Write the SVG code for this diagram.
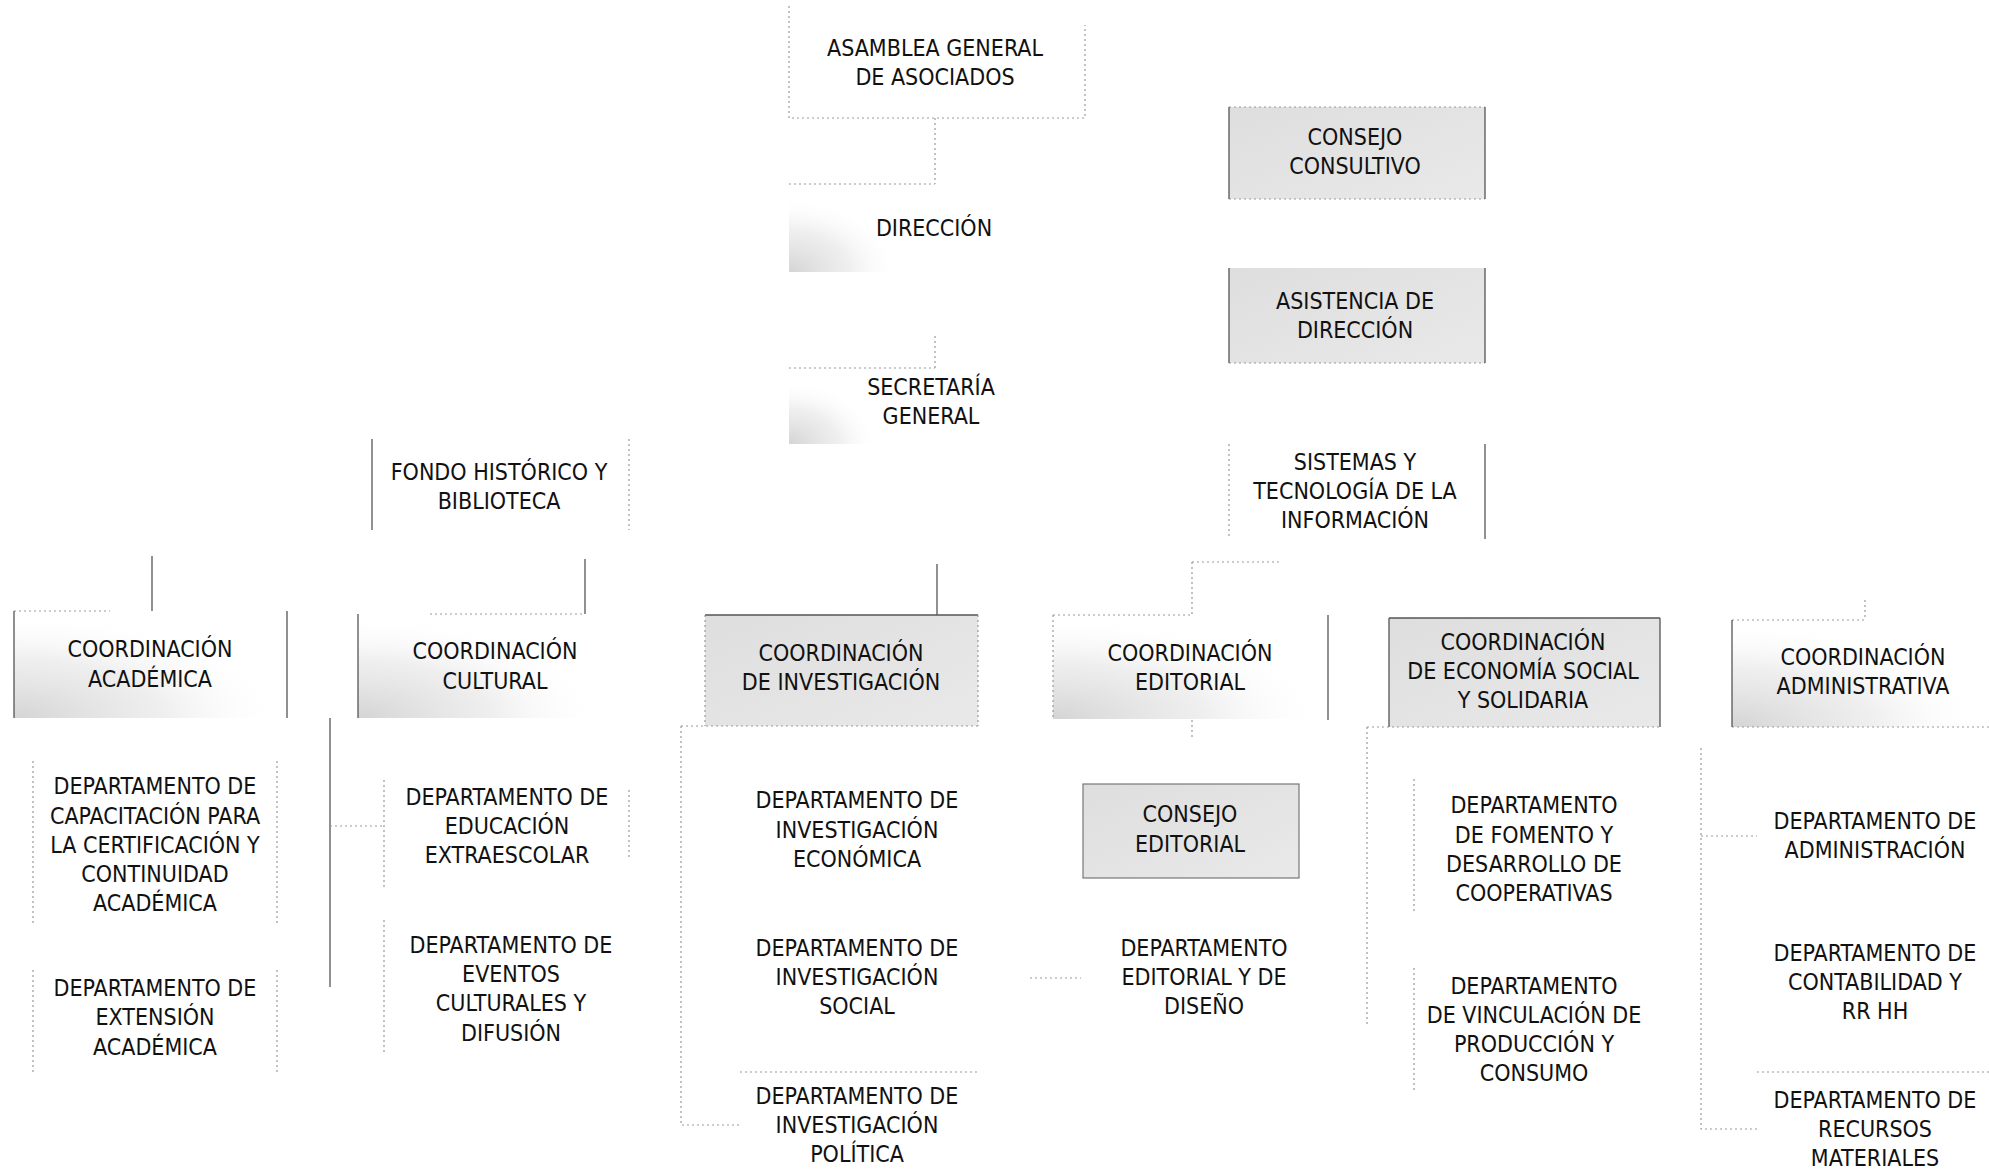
<svg xmlns="http://www.w3.org/2000/svg" width="1989" height="1171" viewBox="0 0 1989 1171">
<style>
text{font-family:"DejaVu Sans Condensed","DejaVu Sans",sans-serif;font-size:23px;fill:#111;text-anchor:middle}
.s{stroke:#555;stroke-width:1.3;fill:none}
.d{stroke:#999;stroke-width:1.2;fill:none;stroke-dasharray:2 3}
.shade{fill:url(#sh)}
.fade{fill:url(#fd)}
</style>
<defs>
<linearGradient id="sh" x1="0" y1="0" x2="1" y2="1"><stop offset="0" stop-color="#dedede"/><stop offset="1" stop-color="#e9e9e9"/></linearGradient>
<radialGradient id="fd" cx="0" cy="1" r="1"><stop offset="0" stop-color="#d4d4d4" stop-opacity="1"/><stop offset="0.55" stop-color="#e4e4e4" stop-opacity="0.6"/><stop offset="1" stop-color="#ffffff" stop-opacity="0"/></radialGradient>
</defs>
<rect width="1989" height="1171" fill="#fff"/>

<g id="connectors">
<path class="d" d="M935 118V184"/>
<path class="d" d="M789 184H935"/>
<path class="d" d="M935 336V368M789 368H935"/>
<path class="s" d="M937 564V615"/>
<path class="s" d="M152 556V611"/>
<path class="s" d="M585 559V614"/>
<path class="d" d="M1192 562H1281"/>
<path class="d" d="M1192 562V615"/>
<path class="d" d="M1865 600V620"/>
<path class="s" d="M330 718V987"/>
<path class="d" d="M330 826H384"/>
<path class="d" d="M681 726V1125H740"/>
<path class="d" d="M740 1072H977"/>
<path class="d" d="M1030 978H1081"/>
<path class="d" d="M1192 720V740"/>
<path class="d" d="M1367 727V1027"/>
<path class="d" d="M1701 748V1129H1757M1701 836H1757"/>
<path class="d" d="M1757 1072H1989"/>
</g>

<g id="asamblea"><path class="d" d="M789 6V118H1085V25"/><text x="935" y="56">ASAMBLEA GENERAL</text><text x="935" y="85">DE ASOCIADOS</text></g>
<g id="consejo-consultivo"><rect class="shade" x="1229" y="107" width="256" height="92"/><path class="d" d="M1229 107H1485M1229 199H1485"/><path class="s" d="M1229 107V199M1485 107V199"/><text x="1355" y="145">CONSEJO</text><text x="1355" y="174">CONSULTIVO</text></g>
<g id="direccion"><rect class="fade" x="789" y="196" width="110" height="76"/><text x="934" y="236">DIRECCIÓN</text></g>
<g id="asistencia"><rect class="shade" x="1229" y="268" width="256" height="95"/><path class="d" d="M1229 363H1485"/><path class="s" d="M1229 268V363M1485 268V363"/><text x="1355" y="309">ASISTENCIA DE</text><text x="1355" y="338">DIRECCIÓN</text></g>
<g id="secretaria"><rect class="fade" x="789" y="380" width="90" height="64"/><text x="931" y="395">SECRETARÍA</text><text x="931" y="424">GENERAL</text></g>
<g id="fondo"><path class="s" d="M372 439V530" stroke="#999"/><path class="d" d="M629 439V530"/><text x="499" y="480">FONDO HISTÓRICO Y</text><text x="499" y="509">BIBLIOTECA</text></g>
<g id="sistemas"><path class="d" d="M1229 444V539"/><path class="s" d="M1485 444V539" stroke="#999"/><text x="1355" y="470">SISTEMAS Y</text><text x="1355" y="499">TECNOLOGÍA DE LA</text><text x="1355" y="528">INFORMACIÓN</text></g>

<g id="coord-academica"><rect class="fade" x="14" y="611" width="273" height="107"/><path class="d" d="M14 611H110"/><path class="s" d="M14 611V718M287 611V718"/><text x="150" y="657">COORDINACIÓN</text><text x="150" y="687">ACADÉMICA</text></g>
<g id="coord-cultural"><rect class="fade" x="358" y="614" width="246" height="104"/><path class="d" d="M430 614H585"/><path class="s" d="M358 614V718"/><text x="495" y="659">COORDINACIÓN</text><text x="495" y="689">CULTURAL</text></g>
<g id="coord-investigacion"><rect class="shade" x="705" y="615" width="273" height="111"/><path class="s" d="M705 615H978"/><path class="d" d="M705 615V726M978 615V726M681 726H978"/><text x="841" y="661">COORDINACIÓN</text><text x="841" y="690">DE INVESTIGACIÓN</text></g>
<g id="coord-editorial"><rect class="fade" x="1053" y="615" width="275" height="104"/><path class="d" d="M1053 615H1192M1053 615V719"/><path class="s" d="M1328 615V720"/><text x="1190" y="661">COORDINACIÓN</text><text x="1190" y="690">EDITORIAL</text></g>
<g id="coord-economia"><rect class="shade" x="1389" y="618" width="271" height="109"/><path class="s" d="M1389 618H1660M1389 618V727M1660 618V727"/><path class="d" d="M1367 727H1660"/><text x="1523" y="650">COORDINACIÓN</text><text x="1523" y="679">DE ECONOMÍA SOCIAL</text><text x="1523" y="708">Y SOLIDARIA</text></g>
<g id="coord-administrativa"><rect class="fade" x="1732" y="620" width="257" height="107"/><path class="d" d="M1732 620H1865M1732 727H1989"/><path class="s" d="M1732 620V727"/><text x="1863" y="665">COORDINACIÓN</text><text x="1863" y="694">ADMINISTRATIVA</text></g>

<g id="dep-capacitacion"><path class="d" d="M33 761V926M277 761V926" stroke="#ccc"/><text x="155" y="794">DEPARTAMENTO DE</text><text x="155" y="824">CAPACITACIÓN PARA</text><text x="155" y="853">LA CERTIFICACIÓN Y</text><text x="155" y="882">CONTINUIDAD</text><text x="155" y="911">ACADÉMICA</text></g>
<g id="dep-extension"><path class="d" d="M33 970V1072M277 970V1072" stroke="#ccc"/><text x="155" y="996">DEPARTAMENTO DE</text><text x="155" y="1025">EXTENSIÓN</text><text x="155" y="1055">ACADÉMICA</text></g>
<g id="dep-educacion"><path class="d" d="M384 780V888M629 790V860" stroke="#ccc"/><text x="507" y="805">DEPARTAMENTO DE</text><text x="507" y="834">EDUCACIÓN</text><text x="507" y="863">EXTRAESCOLAR</text></g>
<g id="dep-eventos"><path class="d" d="M384 920V1053" stroke="#ccc"/><text x="511" y="953">DEPARTAMENTO DE</text><text x="511" y="982">EVENTOS</text><text x="511" y="1011">CULTURALES Y</text><text x="511" y="1041">DIFUSIÓN</text></g>
<g id="dep-inv-economica"><text x="857" y="808">DEPARTAMENTO DE</text><text x="857" y="838">INVESTIGACIÓN</text><text x="857" y="867">ECONÓMICA</text></g>
<g id="dep-inv-social"><text x="857" y="956">DEPARTAMENTO DE</text><text x="857" y="985">INVESTIGACIÓN</text><text x="857" y="1014">SOCIAL</text></g>
<g id="dep-inv-politica"><text x="857" y="1104">DEPARTAMENTO DE</text><text x="857" y="1133">INVESTIGACIÓN</text><text x="857" y="1162">POLÍTICA</text></g>
<g id="consejo-editorial"><rect class="shade" x="1083" y="784" width="216" height="94" stroke="#777" stroke-width="1.2"/><text x="1190" y="822">CONSEJO</text><text x="1190" y="852">EDITORIAL</text></g>
<g id="dep-editorial"><text x="1204" y="956">DEPARTAMENTO</text><text x="1204" y="985">EDITORIAL Y DE</text><text x="1204" y="1014">DISEÑO</text></g>
<g id="dep-fomento"><path class="d" d="M1414 779V911" stroke="#ccc"/><text x="1534" y="813">DEPARTAMENTO</text><text x="1534" y="843">DE FOMENTO Y</text><text x="1534" y="872">DESARROLLO DE</text><text x="1534" y="901">COOPERATIVAS</text></g>
<g id="dep-vinculacion"><path class="d" d="M1414 968V1091" stroke="#ccc"/><text x="1534" y="994">DEPARTAMENTO</text><text x="1534" y="1023">DE VINCULACIÓN DE</text><text x="1534" y="1052">PRODUCCIÓN Y</text><text x="1534" y="1081">CONSUMO</text></g>
<g id="dep-administracion"><text x="1875" y="829">DEPARTAMENTO DE</text><text x="1875" y="858">ADMINISTRACIÓN</text></g>
<g id="dep-contabilidad"><text x="1875" y="961">DEPARTAMENTO DE</text><text x="1875" y="990">CONTABILIDAD Y</text><text x="1875" y="1019">RR HH</text></g>
<g id="dep-recursos"><text x="1875" y="1108">DEPARTAMENTO DE</text><text x="1875" y="1137">RECURSOS</text><text x="1875" y="1166">MATERIALES</text></g>
</svg>
